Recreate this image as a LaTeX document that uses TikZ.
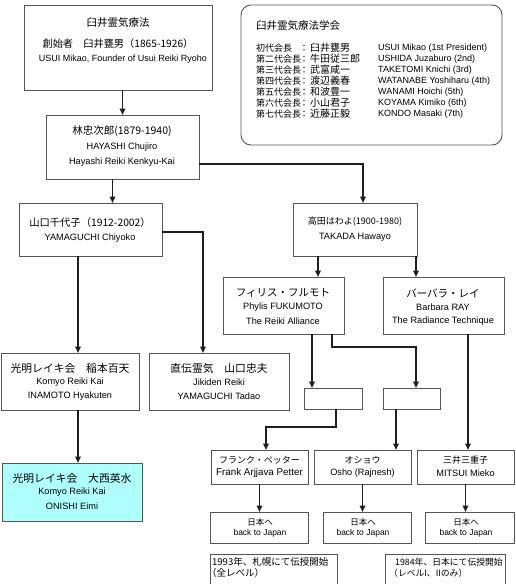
\documentclass[tikz,border=0pt]{standalone}
\usepackage{fontspec}
\setmainfont{Liberation Sans}
\newfontfamily\jp{Noto Sans CJK JP}
\usetikzlibrary{fit,arrows.meta}
\definecolor{boxc}{RGB}{85,85,85}
\definecolor{linec}{RGB}{30,30,30}
\definecolor{cyanf}{RGB}{175,255,255}
\begin{document}
\begin{tikzpicture}[x=1pt,y=-1pt,
  box/.style={draw=boxc,line width=0.9pt,inner sep=0pt,outer sep=0pt},
  jt/.style={inner sep=0pt,font=\jp\fontsize{#1}{12}\selectfont},
  jt/.default=10,
  et/.style={inner sep=0pt,font=\fontsize{#1}{11}\selectfont},
  et/.default=9.2,
  conn/.style={draw=linec,line width=1.7pt,-{Triangle[length=6.5pt,width=5.5pt]}},
  wire/.style={draw=linec,line width=1.7pt}]
\clip (0,0) rectangle (515,584);
\fill[white] (0,0) rectangle (515,584);

% ---- boxes ----
\node[box,fit={(24,5) (212,90)}] (b1) {};
\node[box,rounded corners=10pt,fit={(241,5) (502,145)}] (soc) {};
\node[box,fit={(46,115) (199,179)}] (b2) {};
\node[box,fit={(19,203) (162,256)}] (b3) {};
\node[box,fit={(293,203) (417,256)}] (b4) {};
\node[box,fit={(223,277) (344,334)}] (b5) {};
\node[box,fit={(383,277) (504,334)}] (b6) {};
\node[box,fit={(1,353) (139,410)}] (b7) {};
\node[box,fit={(149,353) (289,410)}] (b8) {};
\node[box,fill=cyanf,fit={(2,463) (142,521)}] (b9) {};
\node[box,fit={(304,388) (362,409)}] (s1) {};
\node[box,fit={(383,388) (440,409)}] (s2) {};
\node[box,fit={(211,450) (308,484)}] (f) {};
\node[box,fit={(314,450) (411,484)}] (o) {};
\node[box,fit={(417,450) (514,484)}] (m) {};
\node[box,fit={(210,512) (308,543)}] (j1) {};
\node[box,fit={(323,512) (411,543)}] (j2) {};
\node[box,fit={(425,512) (514,543)}] (j3) {};
\node[box,fit={(210,554) (337,600)}] (n1) {};
\node[box,fit={(385,554) (505,600)}] (n2) {};

% ---- texts ----
\node[jt=10.5] (t1a) at (118,23) {臼井霊気療法};
\node[jt=10.2] (t1b) at (118,44) {創始者　臼井甕男（1865-1926）};
\node[et=9] (t1c) at (123,59) {USUI Mikao, Founder of Usui Reiki Ryoho};

\node[jt=10.5,anchor=west] (st) at (256,26) {臼井霊気療法学会};
\foreach \i/\a/\b/\c in {0/初代会長/臼井甕男/USUI Mikao (1st President),
  1/第二代会長/牛田従三郎/USHIDA Juzaburo (2nd),
  2/第三代会長/武富咸一/TAKETOMI Knichi (3rd),
  3/第四代会長/渡辺義春/WATANABE Yoshiharu (4th),
  4/第五代会長/和波豊一/WANAMI Hoichi (5th),
  5/第六代会長/小山君子/KOYAMA Kimiko (6th),
  6/第七代会長/近藤正毅/KONDO Masaki (7th)}{
  \node[jt=9,anchor=west] (ra\i) at (256,48+11*\i) {\a};
  \node[jt=9] (rc\i) at (304,48+11*\i) {：};
  \node[jt=10,anchor=west] (rb\i) at (310,48+11*\i) {\b};
  \node[et=9,anchor=west] (re\i) at (378,48+11*\i) {\c};
}

\node[jt=10.5] (t2a) at (122,131) {林忠次郎(1879-1940)};
\node[et] (t2b) at (122,147) {HAYASHI Chujiro};
\node[et] (t2c) at (122,162) {Hayashi Reiki Kenkyu-Kai};

\node[jt=10.3] (t3a) at (90,223) {山口千代子（1912-2002）};
\node[et] (t3b) at (90,238) {YAMAGUCHI Chiyoko};

\node[jt=9] (t4a) at (355,222) {高田はわよ(1900-1980)};
\node[et] (t4b) at (355,237) {TAKADA Hawayo};

\node[jt=10.5] (t5a) at (283,293) {フィリス・フルモト};
\node[et] (t5b) at (283,307) {Phylis FUKUMOTO};
\node[et] (t5c) at (283,321) {The Reiki Alliance};

\node[jt=10.5] (t6a) at (443,293) {バーバラ・レイ};
\node[et] (t6b) at (443,307) {Barbara RAY};
\node[et] (t6c) at (443,321) {The Radiance Technique};

\node[jt=10.8] (t7a) at (70,368) {光明レイキ会　稲本百天};
\node[et] (t7b) at (70,382) {Komyo Reiki Kai};
\node[et] (t7c) at (70,396) {INAMOTO Hyakuten};

\node[jt=10.8] (t8a) at (219,368) {直伝霊気　山口忠夫};
\node[et] (t8b) at (219,382) {Jikiden Reiki};
\node[et] (t8c) at (219,396) {YAMAGUCHI Tadao};

\node[jt=10.8] (t9a) at (72,478) {光明レイキ会　大西英水};
\node[et] (t9b) at (72,492) {Komyo Reiki Kai};
\node[et] (t9c) at (72,506) {ONISHI Eimi};

\node[jt=9] (tfa) at (259.5,460) {フランク・ペッター};
\node[et=9.8] (tfb) at (259.5,473) {Frank Arjjava Petter};
\node[jt=9] (toa) at (362.5,460) {オショウ};
\node[et] (tob) at (362.5,473) {Osho (Rajnesh)};
\node[jt=9] (tma) at (465.5,460) {三井三重子};
\node[et] (tmb) at (465.5,473) {MITSUI Mieko};

\foreach \k/\x in {1/260,2/363,3/466}{
  \node[jt=8.5] (jj\k) at (\x,522) {日本へ};
  \node[et=8.5] (je\k) at (\x,533) {back to Japan};
}

\node[jt=9.5,anchor=west] (n1a) at (212,562) {1993年、札幌にて伝授開始};
\node[jt=9.5,anchor=west] (n1b) at (207,573) {（全レベル）};
\node[jt=8.8,anchor=west] (n2a) at (395,562) {1984年、日本にて伝授開始};
\node[jt=8.8,anchor=west] (n2b) at (389,573) {（レベルI、IIのみ）};

% ---- connectors ----
\draw[conn] (b1.south -| b2.north) -- (b2.north);
\draw[conn] ([xshift=-10pt]b2.south) -- ([xshift=-10pt]b2.south |- b3.north);
\draw[conn] ([yshift=-17pt]b2.east) -| ([xshift=8pt]b4.north);
\draw[conn] ([xshift=8pt]b7.north |- b3.south) -- ([xshift=8pt]b7.north);
\draw[conn] ([yshift=-2.5pt]b3.east) -| ([xshift=-16pt]b8.north);
\draw[conn] ([xshift=8pt]b7.south) -- ([xshift=8pt]b7.south |- b9.north);
\draw[conn] ([xshift=34.5pt]b5.north |- b4.south) -- ([xshift=34.5pt]b5.north);
\draw[conn] ([xshift=-27.5pt]b6.north |- b4.south) -- ([xshift=-27.5pt]b6.north);
\draw[conn] ([xshift=-21pt]s1.north |- b5.south) -- ([xshift=-21pt]s1.north);
\draw[conn] ([xshift=48.5pt]b5.south) -- ++(0,13) -| ([xshift=4.5pt]s2.north);
\draw[conn] ([xshift=3pt]s1.south) -- ++(0,18) -| ([xshift=6.5pt]f.north);
\draw[conn] ([xshift=-15.5pt]s2.south) -- ([xshift=-15.5pt]s2.south |- o.north);
\draw[conn] ([xshift=2.5pt]m.north |- b6.south) -- ([xshift=2.5pt]m.north);
\draw[conn] (f.south) -- (f.south |- j1.north);
\draw[conn] (o.south) -- (o.south |- j2.north);
\draw[conn] (m.south) -- (m.south |- j3.north);
\end{tikzpicture}
\end{document}
